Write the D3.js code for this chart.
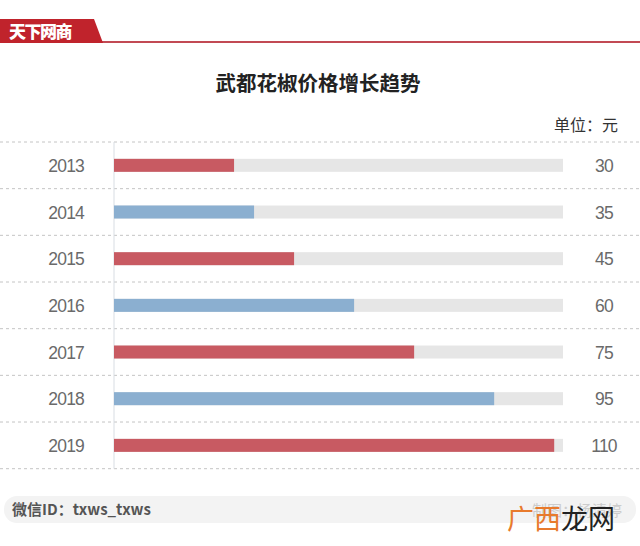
<!DOCTYPE html>
<html><head><meta charset="utf-8">
<script src="https://cdn.jsdelivr.net/npm/d3@7"></script>
<style>
html,body{margin:0;padding:0;background:#fff;}
svg{display:block;font-family:"Noto Sans CJK SC","Noto Sans",sans-serif;}
</style></head>
<body>
<svg id="c" width="640" height="546"></svg>
<script>
const years = ["2013","2014","2015","2016","2017","2018","2019"];
const values = [30, 35, 45, 60, 75, 95, 110];
const seriesColors = ["#c85a62", "#8bafd0"];
const title = "武都花椒价格增长趋势";
const unitLabel = "单位：元";
const brand = "天下网商";
const footerId = "微信ID：txws_txws";
const credit = "制图：杨清婷";

const svg = d3.select("#c");

// header
svg.append("rect").attr("x",0).attr("y",41).attr("width",640).attr("height",2).attr("fill","#c24a54");
svg.append("path").attr("d","M0,19 L94,19 L103,43 L0,43 Z").attr("fill","#c0232c");
svg.append("text").attr("x",9).attr("y",38).attr("fill","#fff")
  .attr("font-size",17).attr("font-weight","900").attr("letter-spacing",-1.5).text(brand);

// title
svg.append("text").attr("x",318).attr("y",91).attr("text-anchor","middle")
  .attr("font-size",20.5).attr("font-weight","bold").attr("fill","#222").text(title);
svg.append("text").attr("x",618).attr("y",131).attr("text-anchor","end")
  .attr("font-size",16).attr("fill","#333").text(unitLabel);

// scales
const y = d3.scaleBand().domain(years).range([142, 468.7]).paddingInner(0).paddingOuter(0);
const x = d3.scaleLinear().domain([0, 112.2]).range([114, 563]);
const barH = 13;

// dotted separators
const seps = years.map(d => y(d)).concat([y(years[years.length-1]) + y.bandwidth()]);
svg.selectAll("line.sep").data(seps).enter().append("line")
  .attr("x1",0).attr("x2",640).attr("y1",d=>d).attr("y2",d=>d)
  .attr("stroke","#c4c4c4").attr("stroke-width",1).attr("stroke-dasharray","3,3");

// tracks
svg.selectAll("rect.track").data(years).enter().append("rect")
  .attr("x", x(0)).attr("width", x(112.2)-x(0))
  .attr("y", d => y(d)+y.bandwidth()/2 - barH/2).attr("height", barH)
  .attr("fill","#e6e6e6");

// vertical axis line
svg.append("line").attr("x1",x(0)).attr("x2",x(0)).attr("y1",142).attr("y2",468.7)
  .attr("stroke","#d8dde3").attr("stroke-width",1);

// bars
svg.selectAll("rect.bar").data(values).enter().append("rect")
  .attr("x", x(0)).attr("width", d => x(d)-x(0))
  .attr("y", (d,i) => y(years[i])+y.bandwidth()/2 - barH/2).attr("height", barH)
  .attr("fill", (d,i) => seriesColors[i%2]);

// year labels
svg.selectAll("text.yr").data(years).enter().append("text")
  .attr("x",84).attr("y", d => y(d)+y.bandwidth()/2 + 6.5)
  .attr("text-anchor","end").attr("font-size",17.5).attr("fill","#6a6a6a")
  .attr("font-family","'Liberation Sans',Arial,sans-serif").attr("letter-spacing",-0.8).text(d=>d);

// value labels
svg.selectAll("text.val").data(values).enter().append("text")
  .attr("x",604).attr("y", (d,i) => y(years[i])+y.bandwidth()/2 + 6.5)
  .attr("text-anchor","middle").attr("font-size",17.5).attr("fill","#6a6a6a")
  .attr("font-family","'Liberation Sans',Arial,sans-serif").attr("letter-spacing",-0.8).text(d=>d);

// footer
svg.append("rect").attr("x",4).attr("y",496).attr("width",632).attr("height",27).attr("rx",13)
  .attr("fill","#f3f3f3");
svg.append("text").attr("x",12).attr("y",515).attr("font-size",15).attr("font-weight","bold")
  .attr("fill","#555").text(footerId);
svg.append("text").attr("x",622).attr("y",516).attr("text-anchor","end").attr("font-size",15)
  .attr("fill","#ccc").text(credit);

// watermark
const wm = svg.append("text").attr("x",507).attr("y",529).attr("font-size",27);
wm.append("tspan").attr("fill","#e87a2c").text("广西");
wm.append("tspan").attr("fill","#222").text("龙网");
</script>
</body></html>
